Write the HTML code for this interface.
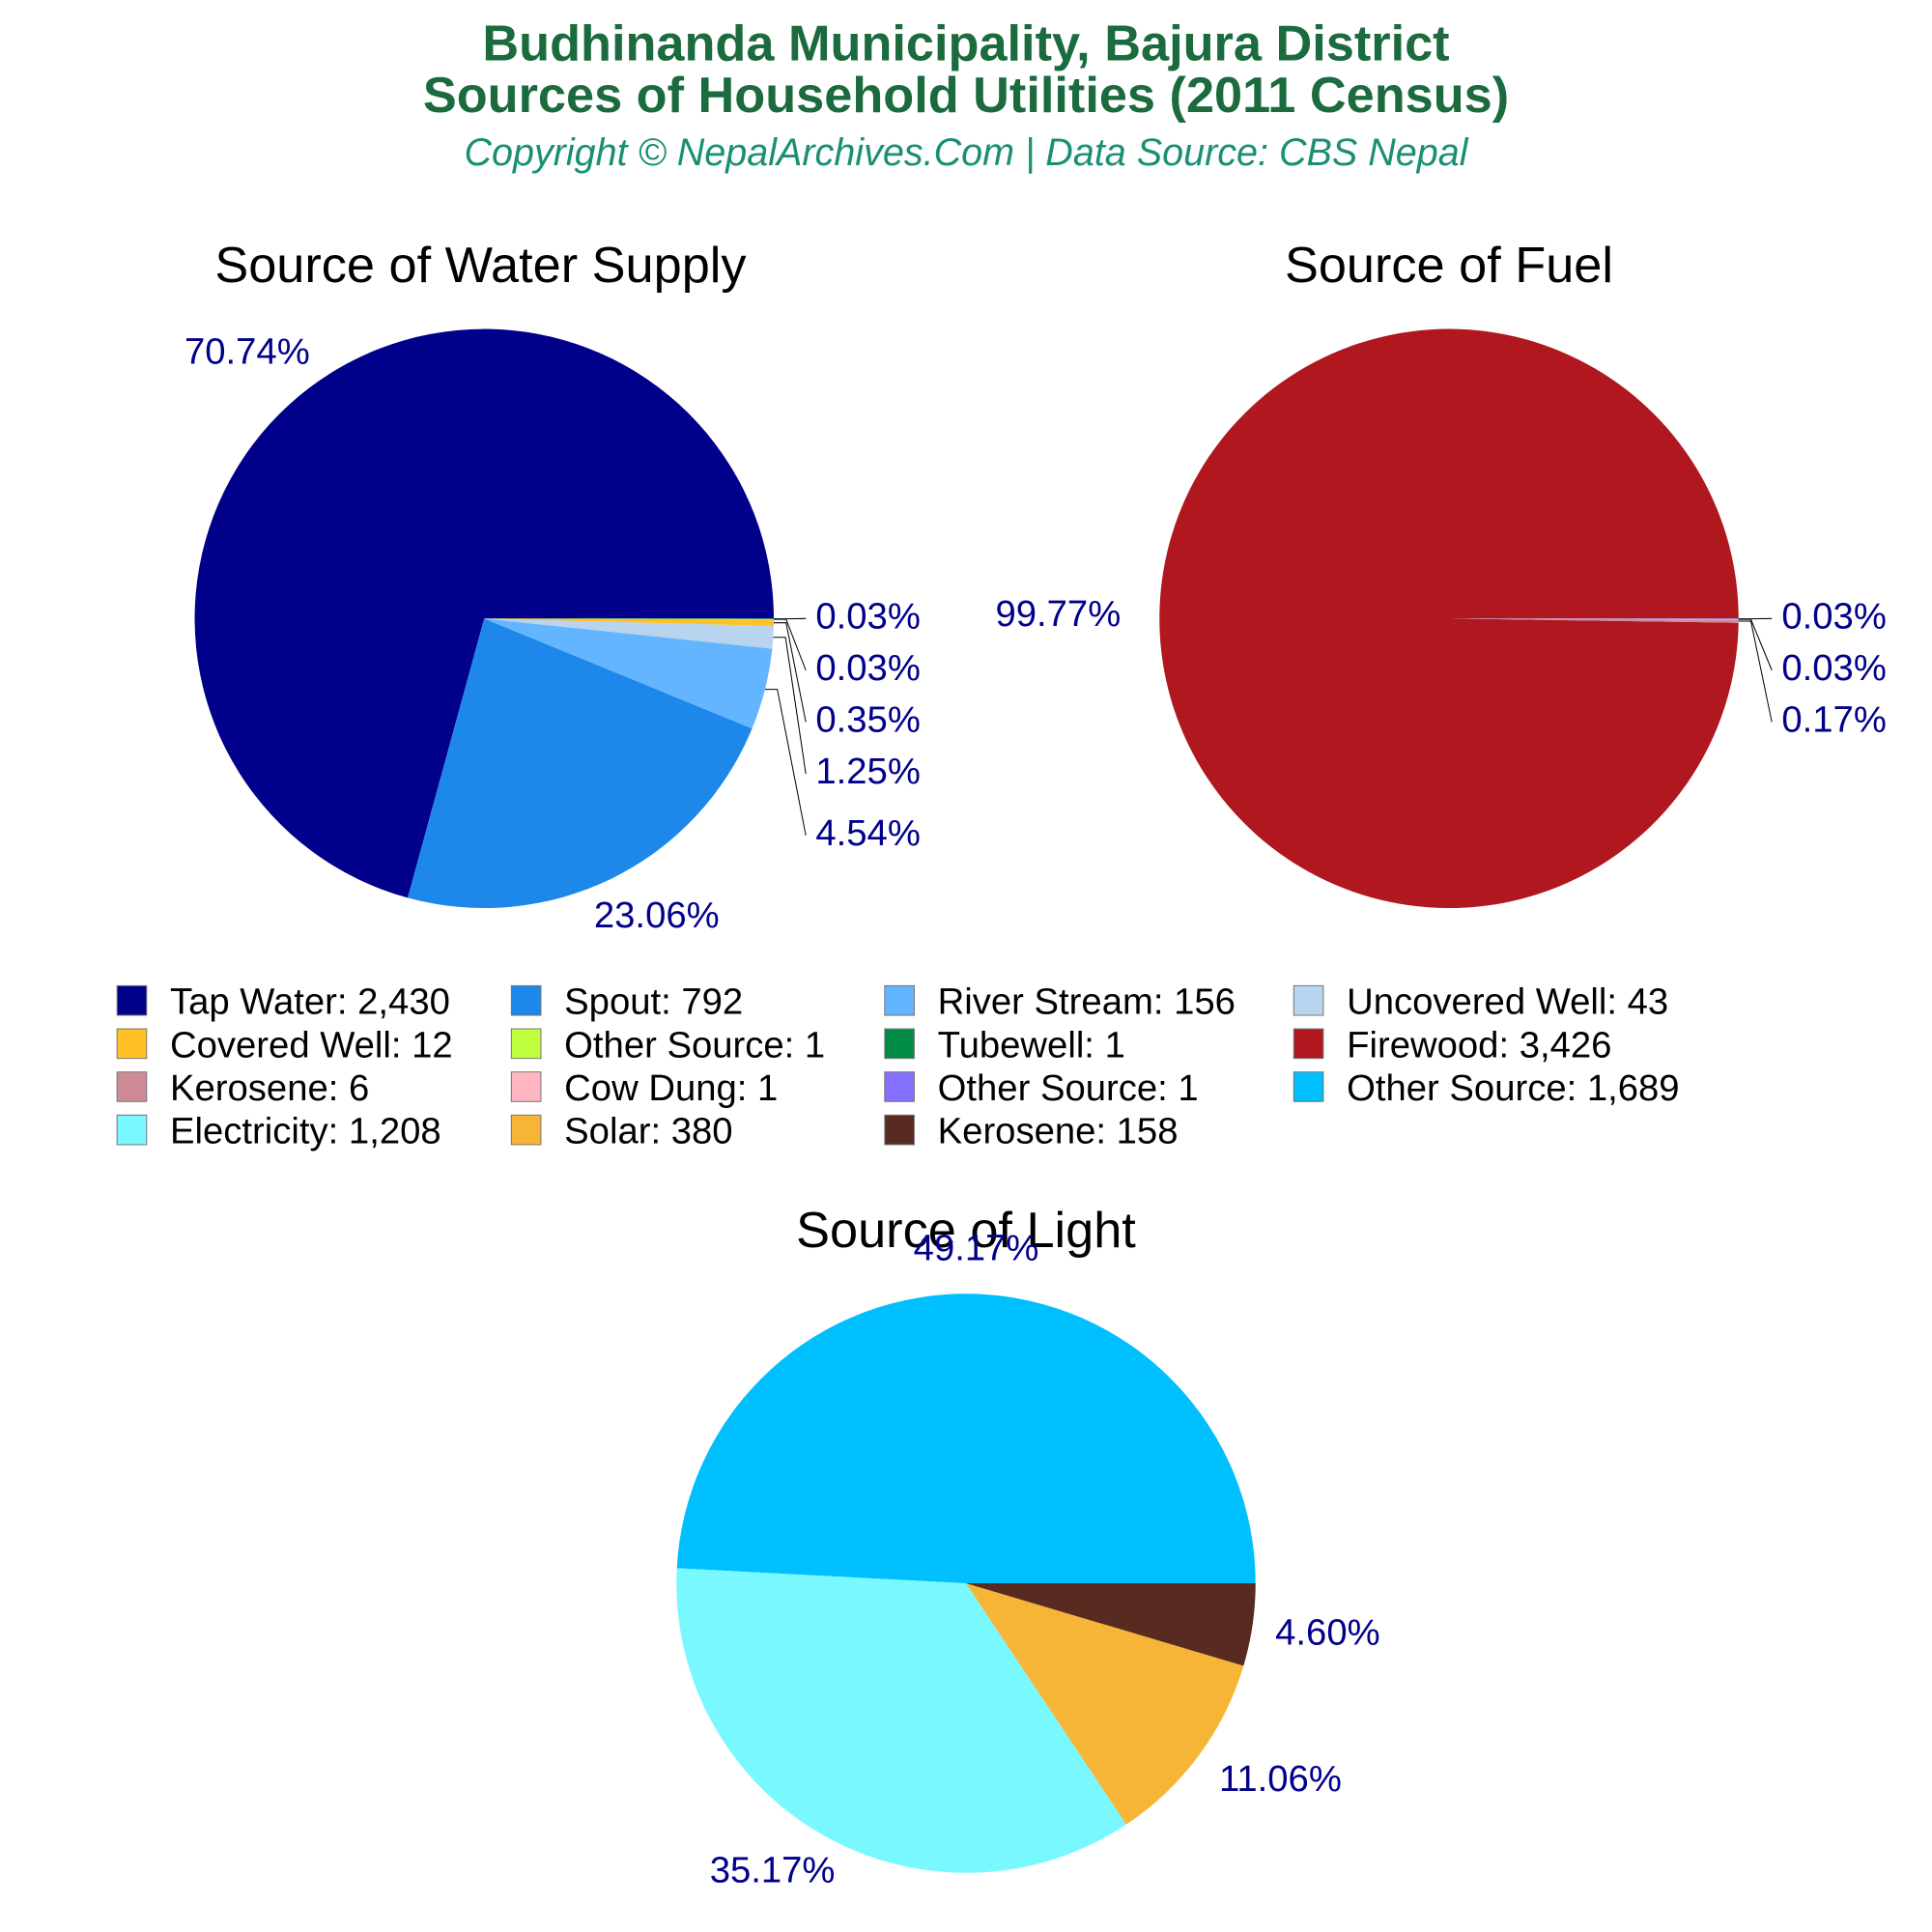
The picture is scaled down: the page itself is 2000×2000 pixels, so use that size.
<!DOCTYPE html>
<html><head><meta charset="utf-8"><style>html,body{margin:0;padding:0;background:#fff}svg{display:block}text{font-family:"Liberation Sans",Arial,sans-serif}</style></head>
<body>
<svg id="c" width="2000" height="2000" viewBox="0 0 1568 1568" xmlns="http://www.w3.org/2000/svg">
<text x="784" y="49" text-anchor="middle" font-size="41" font-weight="bold" fill="#1B6B3E">Budhinanda Municipality, Bajura District</text>
<text x="784" y="91" text-anchor="middle" font-size="41" font-weight="bold" fill="#1B6B3E">Sources of Household Utilities (2011 Census)</text>
<text x="784" y="134" text-anchor="middle" font-size="31" font-style="italic" fill="#1A8F73">Copyright © NepalArchives.Com | Data Source: CBS Nepal</text>
<text x="390" y="229" text-anchor="middle" font-size="41" fill="#000">Source of Water Supply</text>
<text x="1176" y="229" text-anchor="middle" font-size="41" fill="#000">Source of Fuel</text>
<g id="pies"></g>
<g id="legend"></g>
<text x="784" y="1012" text-anchor="middle" font-size="41" fill="#000">Source of Light</text>
<g id="pies2"></g>
</svg>
<script>
const waterLabels = ["Tap Water","Spout","River Stream","Uncovered Well","Covered Well","Other Source","Tubewell"];
const waterValues = [2430,792,156,43,12,1,1];
const waterColors = ["#00008B","#1E88EA","#64B5FF","#B8D4EE","#FFC125","#C0FF3E","#008B45"];
const fuelLabels = ["Firewood","Kerosene","Cow Dung","Other Source"];
const fuelValues = [3426,6,1,1];
const fuelColors = ["#B0171F","#CD8C95","#FFB6C1","#8470FF"];
const lightLabels = ["Other Source","Electricity","Solar","Kerosene"];
const lightValues = [1689,1208,380,158];
const lightColors = ["#00BFFF","#7AF8FF","#F7B538","#582A20"];

const NS="http://www.w3.org/2000/svg";
function mk(tag,attrs,parent){const e=document.createElementNS(NS,tag);for(const k in attrs)e.setAttribute(k,attrs[k]);parent.appendChild(e);return e;}
function pt(cx,cy,r,a){return [cx+r*Math.cos(a),cy-r*Math.sin(a)];}

function pie(gid,name,cx,cy,r,values,colors,labels,smallCfg){
  const g=document.getElementById(gid);
  const total=values.reduce((a,b)=>a+b,0);
  let a0=0;
  const smalls=[];
  values.forEach((v,i)=>{
    const frac=v/total, a1=a0+frac*2*Math.PI;
    const p0=pt(cx,cy,r,a0),p1=pt(cx,cy,r,a1);
    const large=(a1-a0)>Math.PI?1:0;
    const s=mk('path',{d:`M${cx},${cy}L${p0[0]},${p0[1]}A${r},${r} 0 ${large} 0 ${p1[0]},${p1[1]}Z`,fill:colors[i],stroke:'none'},g);
    
    
    const pct=(frac*100).toFixed(2)+'%';
    const am=(a0+a1)/2;
    if(frac>=0.05){
      const lx=cx+r*1.35*Math.cos(am), ly=cy-r*1.15*Math.sin(am);
      const t=mk('text',{x:lx,y:ly,'text-anchor':'middle','dominant-baseline':'middle','font-size':30,fill:'#00008B'},g);
      t.textContent=pct;
      
      
    } else smalls.push({am,pct});
    a0=a1;
  });
  smalls.reverse().forEach((s,k)=>{
    let y=smallCfg.y0;
    for(let j=0;j<k;j++) y+=smallCfg.dy[j];
    const ep=pt(cx,cy,r,s.am);
    if(!smallCfg.noLine){
      const l=mk('polyline',{points:`${ep[0]},${ep[1]} ${ep[0]+10},${ep[1]} ${smallCfg.x-8},${y}`,fill:'none',stroke:'#000','stroke-width':0.8},g);
      
      
    }
    const t=mk('text',{x:smallCfg.x,y:y,'dominant-baseline':'middle','font-size':30,fill:'#00008B'},g);
    t.textContent=s.pct;
    
    
  });
}
pie('pies','water',393,502,235,waterValues,waterColors,waterLabels,{x:662,y0:502,dy:[42,42,42,50]});
pie('pies','fuel',1176,502,235,fuelValues,fuelColors,fuelLabels,{x:1446,y0:502,dy:[42,42]});
pie('pies2','light',784,1285,235,lightValues,lightColors,lightLabels,{x:1035,y0:1327,dy:[],noLine:true});

const lg=document.getElementById('legend');
const legItems=[];
waterLabels.forEach((l,i)=>legItems.push([l,waterValues[i],waterColors[i]]));
fuelLabels.forEach((l,i)=>legItems.push([l,fuelValues[i],fuelColors[i]]));
lightLabels.forEach((l,i)=>legItems.push([l,lightValues[i],lightColors[i]]));
const colX=[95,415,718,1050];
legItems.forEach((it,i)=>{
  const x=colX[i%4], y=800+Math.floor(i/4)*35;
  const r=mk('rect',{x:x,y:y,width:24,height:24,fill:it[2],stroke:'#777','stroke-width':0.8},lg);
  
  
  const t=mk('text',{x:x+43,y:y+23,'font-size':30,fill:'#000'},lg);
  t.textContent=it[0]+': '+it[1].toLocaleString('en-US');
  
  
});
</script>
</body></html>
